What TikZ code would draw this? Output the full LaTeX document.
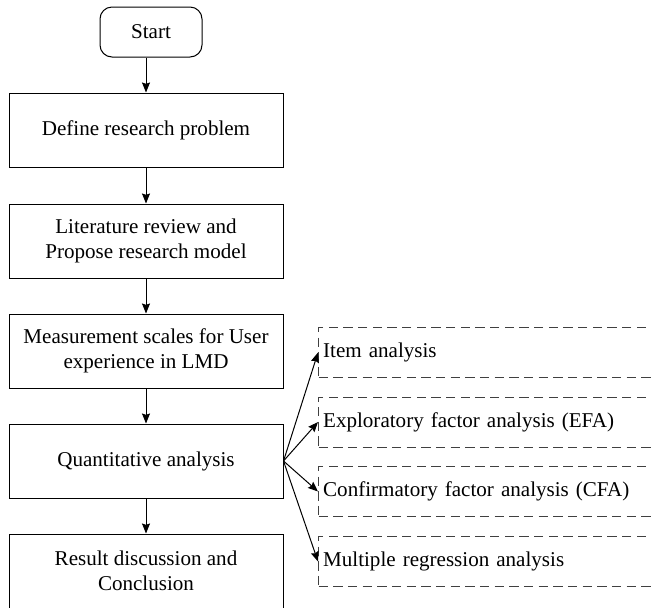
\documentclass[tikz,border=0pt]{standalone}
\usepackage{fontspec}
\setmainfont{Liberation Serif}
\usepackage{tikz}
\usetikzlibrary{positioning,calc,arrows.meta}

\begin{document}
\begin{tikzpicture}[x=0.75pt,y=-0.75pt,-{Stealth[length=7.5pt,width=6pt,inset=1pt]},
                line width=0.75pt,font=\fontsize{15.8pt}{18.8pt}\selectfont,
                main node/.style={rectangle,draw,align=center,minimum width=205.5pt,minimum height=55.5pt,inner sep=2pt},
                start node/.style={rectangle,draw,rounded corners=9pt,minimum width=76.5pt,minimum height=37.5pt},
                sub node/.style={rectangle,draw=black!75,dash pattern=on 7pt off 4pt,text width=262pt,align=left,
                                 minimum height=37.5pt,inner xsep=3.5pt,anchor=west}]
\clip (0,0) rectangle (651,608);
%Nodes
    \node[start node] (start) at (151,32) {Start};
    \node[main node] (prob) at (146,130) {Define research problem};
    \node[main node] (lit) at (146,241) {Literature review and\\Propose research model};
    \node[main node] (scale) at (146,351) {Measurement scales for User\\experience in LMD};
    \node[main node] (quant) at (146,461) {Quantitative analysis};
    \node[main node] (res) at (146,571) {Result discussion and\\Conclusion};
    \node[sub node] (item) at (318,352.5) {Item analysis};
    \node[sub node] (efa) at (318,422) {Exploratory factor analysis (EFA)};
    \node[sub node] (cfa) at (318,491.5) {Confirmatory factor analysis (CFA)};
    \node[sub node] (mra) at (318,561.5) {Multiple regression analysis};
%Lines
    \draw (prob.north |- start.south) -- (prob);
    \draw (prob) -- (lit);
    \draw (lit) -- (scale);
    \draw (scale) -- (quant);
    \draw (quant) -- (res);
    \foreach \s in {item,efa,cfa,mra}
        \draw (quant.east) -- (\s.west);
\end{tikzpicture}
\end{document}
